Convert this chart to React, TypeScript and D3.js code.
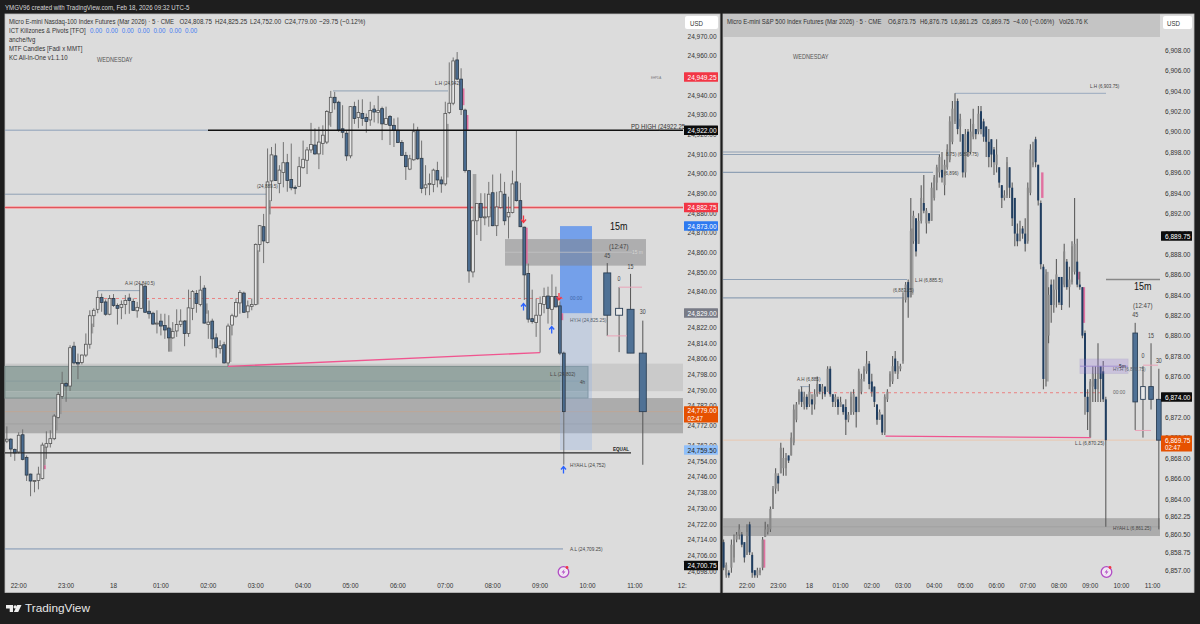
import React from "react";
import * as d3 from "d3";

type Bar = [number, number, number, number];
type Shade = [number, number, number, string];

const firstNqBar = -3;
const nqBars: Bar[] = [
[24764,24771.5,24763,24765],[24765,24765.5,24756,24760],[24759.75,24760.25,24754,24758],[24758.5,24768.5,24757.75,24767],
[24767.25,24770,24754.25,24754.75],[24755.75,24756.75,24743.75,24746.75],[24747.25,24747.5,24736,24743.75],[24743.75,24744.25,24738,24744],
[24744,24751,24739.5,24747.25],[24745,24763.25,24744.5,24762],[24761,24769,24755,24762.75],[24762.75,24769.5,24760.75,24765.25],
[24765.25,24777.75,24764.5,24776.75],[24776,24789,24775.5,24787.75],[24786.75,24799.25,24785.5,24793.25],[24793.25,24794,24784,24792],
[24792,24812.75,24789.5,24811.5],[24812.25,24814.5,24803,24803.75],[24804,24808.5,24795.5,24803.25],[24804,24808,24803,24807.75],
[24807.75,24818.75,24806.75,24813.25],[24813.25,24830.5,24811,24827.75],[24827.75,24831.5,24822,24830.5],[24831,24840.5,24829,24837],
[24837,24839,24829.75,24834.5],[24834.75,24836,24827.75,24828.5],[24828.5,24838.25,24828,24836.5],[24836.5,24838.75,24832.25,24833],
[24833,24834,24823.25,24831.5],[24832,24835.5,24826,24833.5],[24833.5,24838.25,24828.5,24835.5],[24836.75,24839,24828.75,24835.5],
[24835,24836.5,24830.25,24830.5],[24830.25,24834.75,24826.75,24832],[24831.5,24844,24831.25,24843.5],[24842.75,24843.75,24829.25,24829.5],
[24830,24835.5,24826.25,24828.75],[24829,24829.75,24823.25,24823.5],[24823.75,24830.5,24818.75,24824],[24825,24828.75,24817.75,24822.5],
[24822.75,24828.75,24816,24820.5],[24821.5,24828,24809.5,24816.5],[24816.5,24824.5,24816,24819.75],[24820,24831,24817,24823.25],
[24823.25,24831,24822,24825],[24825,24825.5,24812.25,24818.75],[24818.75,24841,24817,24831.75],[24831.5,24840.75,24825.5,24840],
[24839,24840.75,24829.25,24834],[24833.5,24848,24832.5,24840.75],[24841.75,24843.25,24823.75,24824],[24823.25,24830.5,24816,24824.5],
[24825,24826.25,24811,24816],[24816.5,24818.75,24806.5,24811.5],[24811,24815.25,24808.5,24812.5],[24813,24814.5,24803.5,24803.75],
[24803.75,24823.75,24802,24822.5],[24823,24828.75,24817.75,24827.75],[24827.5,24836.5,24826.75,24834.5],[24834.25,24840.75,24828.75,24839.5],
[24839.25,24840,24829.25,24829.5],[24829.75,24835.5,24826.5,24832.75],[24832.5,24836.5,24830.5,24833.5],[24833.5,24864.5,24833,24864],
[24864,24873.75,24860.25,24873.5],[24873,24879.5,24854.5,24865.75],[24865,24912.75,24864.5,24895.75],[24896.25,24913.5,24886,24909.5],
[24909,24915.25,24896.25,24896.5],[24895,24904.25,24890,24901.75],[24900.5,24916,24893,24905.5],[24905.5,24910,24890.75,24896.5],
[24897,24915.25,24891.5,24892.75],[24893,24894,24889.5,24892.75],[24893.5,24908.5,24893.25,24903.5],[24903,24916.75,24902.5,24907.25],
[24906.75,24913.5,24899.75,24912],[24912,24925.75,24910.5,24914.75],[24914.5,24923,24909.5,24910],[24910,24923.75,24902.25,24916],
[24915.25,24924.5,24909.5,24919.5],[24916,24932.25,24915,24931.5],[24931,24942,24923.75,24938.75],[24938.75,24941.5,24932.5,24936],
[24936.25,24937,24921.25,24922],[24922.75,24934.75,24918,24921],[24920.5,24922,24906.5,24909],[24909,24934.25,24907.75,24934],
[24934,24936.5,24925.25,24928],[24928.5,24937.5,24923,24931],[24930.5,24937.75,24924.25,24928],[24928.5,24930.5,24920.75,24926.5],
[24927.25,24936.5,24924.25,24932],[24932.75,24934.75,24926,24931.25],[24931,24939.5,24925.5,24932],[24933,24934,24917,24925.25],
[24925,24934,24924.75,24928],[24929,24929.75,24914.5,24924.5],[24924.5,24928,24913.5,24922],[24922,24928.5,24915.5,24915.75],
[24915.75,24917,24909,24909.25],[24909.25,24911,24896.75,24903.5],[24902.25,24909.5,24901.75,24907.5],[24907,24925.5,24906.5,24921.25],
[24922,24923.75,24907,24907.5],[24907.75,24916.75,24890,24892.5],[24892.75,24904.25,24889,24894.25],[24894.75,24900,24889,24895],
[24894.5,24902.5,24890.5,24901.75],[24901.5,24906,24893,24896.75],[24896.75,24898.5,24890.25,24894.75],[24894.75,24936.5,24893.75,24930.5],
[24931,24956.5,24930.25,24935.75],[24935.75,24959,24934.75,24957.25],[24957.75,24961.75,24947.5,24948],[24948,24953.5,24929.75,24932.5],
[24932.25,24933,24900.5,24901.5],[24901.5,24901.75,24844.5,24850.5],[24850,24876.5,24847.25,24876],[24876,24885,24868.75,24884.75],
[24884.75,24890,24865.75,24877.75],[24877.75,24890,24873.75,24878],[24878,24895.75,24873,24889.5],[24890.25,24899.5,24873.25,24873.5],
[24873.5,24890.75,24868.25,24883],[24882.75,24900,24882.25,24890.75],[24889.5,24895.75,24873.75,24876],[24878,24888.25,24867,24880.25],
[24880.25,24901.5,24879.75,24894.75],[24895.75,24922,24885.75,24886.25],[24886.25,24895.25,24872.75,24873],[24872.75,24873,24835.75,24848.5],
[24849.25,24854.25,24824.25,24826],[24826.25,24841,24823.75,24824.75],[24824.25,24836.5,24817,24828],[24828,24837.5,24809,24834],
[24833.5,24842,24829,24837.5],[24837.75,24842.5,24823.75,24831.5],[24831,24848.75,24823,24837.5],[24837.5,24842.5,24832,24832.25],
[24832.75,24835,24807.75,24808.75],[24808.75,24809.5,24752,24779],
];

const firstEsBar = -9;
const esBars: Bar[] = [
[6859.75,6860,6857,6857.25],[6856.5,6857.75,6856.25,6857.5],[6856.75,6857,6856.25,6856.5],[6857.25,6860,6856.75,6859.5],
[6858.25,6860.5,6857.75,6860],[6860,6860.75,6859.75,6860.5],[6860.5,6861.5,6860,6861],[6860.5,6860.75,6859.25,6859.5],
[6859.75,6859.75,6857.75,6858.25],[6858.5,6861.5,6858.5,6860.75],[6861.5,6861.75,6858.5,6858.75],[6858.5,6858.75,6856.25,6856.75],
[6857,6857,6856.25,6856.5],[6856.5,6857.25,6856.25,6857],[6856.75,6857.25,6856.5,6857],[6857.25,6860.25,6857,6860],
[6860.25,6861.75,6860.25,6861],[6860.75,6861.5,6860.5,6861.25],[6861,6863.25,6860.75,6863],[6863,6865.25,6863,6865],
[6865,6867,6864.5,6866.5],[6866.25,6866.5,6864.75,6865.5],[6866.5,6869.5,6866.5,6869],[6867,6869,6866.25,6868],
[6867,6868.5,6866.25,6868],[6868.25,6868.25,6867.5,6867.75],[6868.25,6870.5,6868.25,6870],[6869.5,6873.25,6869.25,6872.75],
[6871.75,6873.5,6871.5,6873.25],[6873.5,6874.75,6873.25,6874.5],[6874.5,6875,6873,6873.5],[6873.25,6874.5,6872.75,6874],
[6874,6874.25,6872.75,6873],[6873.25,6875.25,6873,6874.5],[6873.75,6874.25,6872.25,6873.25],[6873.25,6874.75,6872.75,6874.25],
[6874.25,6876,6874,6875.25],[6875.25,6875.25,6874.25,6874.5],[6874.5,6875.25,6873.75,6875],[6875,6875,6874,6874.25],
[6874.5,6877,6874.5,6876.75],[6876.75,6877,6874,6874.25],[6874.25,6874.25,6873,6873.5],[6873.5,6874.25,6873,6874],
[6873.75,6874,6872.25,6873],[6873,6874,6873,6873.5],[6873.25,6873.25,6872.25,6872.5],[6873,6873.75,6870.25,6871.75],
[6871.75,6872.5,6871.5,6872.25],[6872.25,6874.5,6872.25,6874],[6872.5,6874.75,6872.25,6874.25],[6874,6874,6871,6872.5],
[6872.5,6876.75,6872.5,6876.5],[6874.5,6876.25,6874.25,6875.75],[6875.75,6877,6875.5,6876.75],[6876.5,6878.5,6876.25,6877.25],
[6877.25,6877.5,6874.75,6875.25],[6875.5,6876.25,6874,6874.5],[6875,6875,6873,6873.5],[6873.25,6873.25,6871.25,6871.75],
[6871.75,6872.75,6871.75,6872.5],[6872.25,6872.25,6870.25,6870.5],[6870.5,6874.25,6870.25,6874],[6873.75,6874.75,6873.5,6874.5],
[6875,6876.5,6875,6876.25],[6875.5,6878,6875.25,6877],[6877.75,6878.5,6876.25,6876.5],[6876.25,6877.5,6875.75,6877],
[6876.75,6877.25,6876.5,6877],[6877.5,6884.25,6877.25,6883.75],[6883.5,6885.25,6883.25,6885],[6885.25,6885.5,6881.75,6883.75],
[6883.75,6893.5,6883.75,6890.25],[6889.25,6892.25,6889,6891.75],[6891.5,6891.5,6887.75,6888.25],[6889,6892,6889,6891.25],
[6891.25,6894.75,6891,6893.5],[6893,6895.75,6892,6892.25],[6891,6892.5,6890,6892.25],[6892,6892,6891,6891.25],
[6891.25,6895,6891.25,6894.5],[6893.5,6895.75,6893.25,6895.5],[6895,6896.75,6894.25,6896.5],[6896,6897.75,6895.5,6897.5],
[6896.25,6898,6895,6895.5],[6894.75,6897.25,6893.75,6896.75],[6896.5,6898.75,6896.25,6898.25],[6897.25,6901.5,6897,6901],
[6899,6903,6898.75,6902.25],[6901,6903.75,6900.75,6903],[6903,6903.25,6899.75,6900.25],[6900.5,6901.75,6899,6901.25],
[6899.75,6899.75,6895.5,6896],[6896,6900.25,6895.5,6899.75],[6900,6900.25,6897.5,6898],[6898,6901.25,6897.75,6900],
[6899.5,6902.25,6899.25,6900.75],[6900.25,6900.25,6899.25,6899.75],[6900,6902.5,6899.75,6901.75],[6902,6902.5,6899.75,6900.25],
[6901,6901.25,6899,6899.5],[6900.5,6900.5,6897.5,6899],[6899,6900.25,6896.5,6897.5],[6899.25,6899.25,6896.5,6897.75],
[6898.25,6898.5,6895.75,6897],[6896.75,6899.25,6896,6897.75],[6896.5,6896.5,6894.5,6895],[6894.75,6894.75,6892.5,6893.5],
[6893.5,6894.25,6893.25,6893.75],[6893.75,6897.5,6893.5,6897],[6896.5,6896.5,6893.5,6894.5],[6894.5,6895,6890.75,6891.5],
[6893.5,6893.5,6888.75,6890],[6890,6891,6888.75,6889.25],[6889.25,6891.25,6889.5,6890.5],[6890.5,6890.75,6889.5,6890],
[6890,6891.5,6888.25,6889],[6889.25,6895,6889,6894.5],[6894,6898.75,6893.75,6898.25],[6896.75,6899,6896.5,6897],
[6899.25,6899.5,6896.5,6897],[6896.75,6896.75,6892.75,6893.25],[6893,6893.25,6886.5,6887],[6886.75,6887,6874.75,6875.75],
[6875.75,6886.5,6875,6886],[6880,6884.75,6879.25,6884],[6885,6885.5,6881.25,6883],[6883,6885.5,6882.25,6884.5],
[6884.5,6887.5,6882.75,6886],[6885.75,6885.75,6883,6883.25],[6885.75,6885.75,6882.5,6883],[6885,6889,6884.75,6888.25],
[6887.25,6887.5,6884.5,6884.75],[6884.75,6886.75,6882.75,6885.5],[6885.25,6889.25,6885,6888.75],[6886.25,6893.5,6886,6889],
[6887.25,6889.5,6884.75,6885],[6885,6886.25,6884.5,6884.75],[6884.75,6884.75,6879.75,6880],[6880.25,6880.5,6872.25,6874],
[6874,6874.75,6870.75,6872.5],[6870,6875.75,6870,6875.5],[6875,6877,6873.5,6876.25],[6875.75,6877,6873.5,6874.75],
[6874.75,6879.25,6873.5,6877],[6877,6877,6873.5,6875.75],[6876.5,6877.5,6873.5,6873.75],[6873.75,6874,6861.25,6869.75],
];

const nqShades: Shade[] = [
[0,24767,24758.5,"g"],[6,24761,24751.75,"g"],[6,24751.75,24749.75,"p"],[9,24776.75,24769.5,"g"],[10,24786.5,24777.75,"g"],
[18,24823.75,24818.75,"g"],[38,24821.25,24809.5,"g"],[42,24825.5,24818.75,"g"],[47,24834,24828.75,"g"],[53,24822.5,24804.25,"g"],
[60,24861,24833.5,"g"],[63,24886.5,24879.25,"g"],[78,24931.5,24924.5,"g"],[108,24925.25,24898,"g"],[112,24943.25,24934.75,"p"],
[113,24929.75,24922,"p"],[115,24899.75,24876.25,"g"],[128,24872.5,24854.25,"p"],[137,24829,24825.5,"p"],
];
const esShades: Shade[] = [
[6,6860,6857.25,"p"],[113,6896,6893.5,"p"],[127,6886.25,6885.5,"p"],[129,6884.75,6881.25,"p"],[115,6886.25,6875.5,"g"],[63,6890.5,6884,"g"],
];

const mtfLabels = ["45", "0", "15", "30"];
const nqMtfSlots = [149, 152, 154.9, 158];
const nqMtf: Bar[] = [
[24849.5,24854.5,24817.5,24828],[24828,24842.25,24809.25,24831.5],[24831,24849,24808.75,24808.75],[24808.75,24825.25,24752,24779],
];
const esMtfSlots = [149.3, 152.3, 155.4, 158.4];
const esMtf: Bar[] = [
[6880.25,6881.25,6870.75,6873.5],[6873.75,6877,6870,6875],[6875,6879.25,6872.75,6873.75],[6873.75,6876.75,6861,6869.75],
];

const nqTicks = [24970,24960,24950,24940,24930,24920,24910,24900,24890,24880,24870,24860,24850,24840,24822,24814,24806,24798,24790,24782,24772,24762,24754,24746,24738,24730,24722,24714,24706,24698];
const esTicks = [6908,6906,6904,6902,6900,6898,6896,6894,6892,6890,6888,6886,6884,6882,6880,6878,6876,6874,6872,6870,6868,6866,6864,6862.25,6860.5,6858.75,6857];
const hourLabels = ["22:00","23:00","18","01:00","02:00","03:00","04:00","05:00","06:00","07:00","08:00","09:00","10:00","11:00","12:"];
const nqLegendValues = ["O24,808.75","H24,825.25","L24,752.00","C24,779.00","−29.75 (−0.12%)"];
const esLegendValues = ["O6,873.75","H6,876.75","L6,861.25","C6,869.75","−4.00 (−0.06%)","Vol26.76 K"];
const killzoneValues = ["0.00","0.00","0.00","0.00","0.00","0.00","0.00"];
const indicatorNames = ["anche/fvg","MTF Candles [Fadi x MMT]","KC All-In-One v1.1.10"];

const FONT = "'Liberation Sans', Arial, sans-serif";
const CONDENSE = 0.82;

const nqX = d3.scaleLinear().domain([0, 12]).range([18.7, 66.1]);
const nqY = d3.scaleLinear().domain([24960, 24700.75]).range([55.5, 565.6]);
const esX = d3.scaleLinear().domain([0, 12]).range([747, 778.2]);
const esY = d3.scaleLinear().domain([6908, 6857]).range([50, 570.2]);
const fmt = d3.format(",.2f");

const PINK = "#f0558f";
const LINE = "#a6b3c4";

function T(p: any) {
  const { x, y, s = 7.5, c = "#333", a = "start", w = 400, children, o = 1 } = p;
  return (
    <text transform={`translate(${x} ${y}) scale(${CONDENSE} 1)`} fontSize={s} fill={c} textAnchor={a} fontWeight={w} opacity={o} fontFamily={FONT} dominantBaseline="central">
      {children}
    </text>
  );
}

function Candles({ bars, first, x, y, w, upStroke, downStroke, upFill, downFill, wick, wickW }: any) {
  return (
    <g>
      {bars.map((b: Bar, i: number) => {
        const [o, h, l, c] = b;
        const px = x(first + i);
        const top = y(Math.max(o, c));
        const bot = y(Math.min(o, c));
        const down = c < o;
        const stroke = down ? downStroke : upStroke;
        return (
          <g key={i}>
            <line x1={px} x2={px} y1={y(h)} y2={y(l)} stroke={wick} strokeWidth={wickW} />
            <rect x={px - w / 2} y={top} width={w} height={Math.max(bot - top, 1)} fill={down ? downFill : upFill} stroke={stroke} strokeWidth={stroke === "none" ? 0 : 0.8} />
          </g>
        );
      })}
    </g>
  );
}

function Shades({ items, x, y, w, dx }: any) {
  return (
    <g>
      {items.map((s: Shade, i: number) => (
        <rect key={i} x={x(s[0]) + dx} y={y(s[1])} width={w} height={y(s[2]) - y(s[1])} fill={s[3] === "p" ? "#e06a9c" : "#8f8f8f"} opacity={s[3] === "p" ? 0.95 : 0.75} />
      ))}
    </g>
  );
}

function Mtf({ bars, slots, x, y, w, labelY }: any) {
  return (
    <g>
      {bars.map((b: Bar, i: number) => {
        const [o, h, l, c] = b;
        const px = x(slots[i]);
        const top = y(Math.max(o, c));
        const bot = y(Math.min(o, c));
        return (
          <g key={i}>
            <line x1={px} x2={px} y1={y(h)} y2={y(l)} stroke="#555" strokeWidth={1} />
            <rect x={px - w / 2} y={top} width={w} height={bot - top} fill={c < o ? "#4f7195" : "#e8e8e8"} stroke="#2b3f55" strokeWidth={0.9} />
            <T x={px} y={labelY[i]} s={6.5} a="middle" c="#444">{mtfLabels[i]}</T>
          </g>
        );
      })}
    </g>
  );
}

function Badge({ x, w, y, h = 9.5, fill, color = "#fff", text, text2, tx }: any) {
  return (
    <g>
      <rect x={x} y={y - h / 2} width={w} height={text2 ? h * 1.7 : h} fill={fill} rx={0.5} />
      <T x={tx} y={text2 ? y - 0.3 : y} s={8} c={color}>{text}</T>
      {text2 && <T x={tx} y={y + 7.6} s={7.5} c={color}>{text2}</T>}
    </g>
  );
}

function Arrow({ x, y, c, up }: any) {
  const d = up ? -1 : 1;
  return (
    <path d={`M${x},${y - 3.5 * d} L${x},${y + 3 * d} M${x - 2.5},${y + 0.5 * d} L${x},${y + 3.5 * d} L${x + 2.5},${y + 0.5 * d}`} fill="none" stroke={c} strokeWidth={1.3} />
  );
}

function Bolt({ x, y }: any) {
  return (
    <g>
      <circle cx={x} cy={y} r={5.3} fill="#f1e6f4" stroke="#b14cc4" strokeWidth={1.3} />
      <path d={`M${x + 1},${y - 3} L${x - 2},${y + 0.5} L${x},${y + 0.5} L${x - 1},${y + 3} L${x + 2},${y - 0.5} L${x},${y - 0.5} Z`} fill="#b14cc4" />
      <circle cx={x + 3.5} cy={y - 4.5} r={1.4} fill="#f23645" />
    </g>
  );
}

function HourAxis({ x, count, y }: any) {
  return (
    <g>
      {hourLabels.slice(0, count).map((t, i) => (
        <T key={t} x={x(i * 12)} y={y} s={7.8} a="middle" c="#333">{t}</T>
      ))}
    </g>
  );
}

export default function App() {
  return (
    <svg width={1200} height={624} style={{ position: "absolute", left: 0, top: 0, display: "block" }}>
      <rect width={1200} height={624} fill="#1e1e1e" />
      <T x={5} y={7} s={7.5} c="#d8d8d8">YMGV96 created with TradingView.com, Feb 18, 2026 09:32 UTC-5</T>

      {/* Left pane */}
      <rect x={5} y={14} width={715} height={578.5} fill="#dcdcdc" stroke="#bdbdbd" strokeWidth={0.8} />
      <g>
        <rect x={5} y={nqY(24803.4)} width={678} height={nqY(24789.4) - nqY(24803.4)} fill="#cacaca" />
        <rect x={5} y={nqY(24785.9)} width={678} height={nqY(24768) - nqY(24785.9)} fill="#acacac" />
        <line x1={5} x2={683} y1={nqY(24779)} y2={nqY(24779)} stroke="#c9a48a" strokeWidth={0.6} />
        <line x1={5} x2={683} y1={nqY(24772.75)} y2={nqY(24772.75)} stroke="#989898" strokeWidth={0.6} />
        <rect x={5} y={nqY(24802)} width={583} height={nqY(24789.4) - nqY(24802)} fill="#95a5a1" />
        <rect x={5} y={nqY(24789.4)} width={583} height={nqY(24785.9) - nqY(24789.4)} fill="#a2b0ad" />
        <rect x={5} y={nqY(24802)} width={583} height={nqY(24785.9) - nqY(24802)} fill="none" stroke="#7b8d8b" strokeWidth={1} />
        <line x1={5} x2={588} y1={nqY(24794.5)} y2={nqY(24794.5)} stroke="#84979a" strokeWidth={0.7} />
      </g>

      <rect x={560} y={nqY(24873.3)} width={32} height={nqY(24829) - nqY(24873.3)} fill="#74a0ea" />
      <rect x={560} y={nqY(24829)} width={32} height={nqY(24759.5) - nqY(24829)} fill="#8fb0e6" opacity={0.3} />
      <rect x={505} y={nqY(24866.7)} width={141} height={nqY(24853.2) - nqY(24866.7)} fill="#808082" opacity={0.5} />
      <line x1={505} x2={632} y1={nqY(24860)} y2={nqY(24860)} stroke="#c6c6c8" strokeWidth={1} opacity={0.7} />

      <line x1={5} x2={208} y1={nqY(24922)} y2={nqY(24922)} stroke={LINE} strokeWidth={1.4} />
      <line x1={5} x2={267} y1={nqY(24889.5)} y2={nqY(24889.5)} stroke="#8fa0b4" strokeWidth={1} />
      <line x1={5} x2={683} y1={nqY(24882.75)} y2={nqY(24882.75)} stroke="#f7c8c8" strokeWidth={3} />
      <line x1={5} x2={683} y1={nqY(24882.75)} y2={nqY(24882.75)} stroke="#e0555c" strokeWidth={1.6} />
      <line x1={98} x2={563} y1={nqY(24836.5)} y2={nqY(24836.5)} stroke="#ee6b6b" strokeWidth={0.8} strokeDasharray="3 3" />
      <line x1={98} x2={140} y1={nqY(24840.5)} y2={nqY(24840.5)} stroke="#8fa0b4" strokeWidth={1} />
      <line x1={333} x2={448} y1={nqY(24942)} y2={nqY(24942)} stroke="#8fa0b4" strokeWidth={1} />
      <line x1={5} x2={563} y1={nqY(24709.25)} y2={nqY(24709.25)} stroke={LINE} strokeWidth={1.6} />

      <Shades items={nqShades} x={nqX} y={nqY} w={3.6} dx={-0.2} />
      <Candles bars={nqBars} first={firstNqBar} x={nqX} y={nqY} w={2.8} upStroke="#555" downStroke="#2e3a46" upFill="#e6e6e6" downFill="#4a6c90" wick="#666" wickW={0.9} />

      <line x1={208} x2={683} y1={nqY(24922)} y2={nqY(24922)} stroke="#111" strokeWidth={1.3} />
      <line x1={5} x2={631} y1={nqY(24758)} y2={nqY(24758)} stroke="#2a2a2a" strokeWidth={1.2} />
      <line x1={nqX(53)} x2={540} y1={nqY(24802)} y2={nqY(24809)} stroke={PINK} strokeWidth={1.3} />

      <Mtf bars={nqMtf} slots={nqMtfSlots} x={nqX} y={nqY} w={7} labelY={[256, 279, 267, 312]} />
      <line x1={619} x2={642} y1={nqY(24842.25)} y2={nqY(24842.25)} stroke="#eaa4b8" strokeWidth={1} />
      <line x1={607} x2={627} y1={nqY(24817.5)} y2={nqY(24817.5)} stroke="#eaa4b8" strokeWidth={1} />

      <Arrow x={523.5} y={307} c="#2962ff" up />
      <Arrow x={551.7} y={330} c="#2962ff" up />
      <Arrow x={563.5} y={470} c="#2962ff" up />
      <Arrow x={523.5} y={219} c="#f23645" />
      <Arrow x={559} y={296.5} c="#f23645" />

      <T x={97} y={59} s={6.8} c="#555">WEDNESDAY</T>
      <T x={651} y={78} s={3.6} c="#777">EHPDA</T>
      <T x={631} y={126} s={7.4} c="#333">PD HIGH (24922.25</T>
      <T x={125} y={283} s={5.6} c="#444">A.H (24,840.5)</T>
      <T x={435} y={83} s={5.6} c="#444">L.H (24,942)</T>
      <T x={257} y={186} s={5.6} c="#444">(24,889.5)</T>
      <T x={550} y={374} s={5.8} c="#444">L.L (24,802)</T>
      <T x={580} y={382} s={5.6} c="#444">4h</T>
      <T x={570} y={320} s={5.8} c="#55606e">HY.H (24,825.25)</T>
      <T x={570} y={465} s={5.8} c="#444">HYAH.L (24,752)</T>
      <T x={570} y={549} s={5.8} c="#444">A.L (24,709.25)</T>
      <T x={613} y={449} s={5.6} c="#222" w={700}>EQUAL</T>
      <T x={570} y={298} s={6} c="#3f66a8">00:00</T>
      <T x={610} y={226} s={11} c="#111">15m</T>
      <T x={609} y={246} s={7.5} c="#444">(12:47)</T>
      <T x={632} y={252} s={6} c="#d5d5d5">15 m</T>
      <Bolt x={563.5} y={572} />

      <T x={9} y={21.5} s={7.35}>Micro E-mini Nasdaq-100 Index Futures (Mar 2026) · 5 · CME</T>
      {nqLegendValues.map((t, i) => <T key={t} x={[179.5, 215, 250, 284.5, 319][i]} y={21.5} s={7.6}>{t}</T>)}
      <T x={9} y={30.5} s={7.4}>ICT Killzones &amp; Pivots [TFO]</T>
      {killzoneValues.map((t, i) => <T key={i} x={90 + i * 15.85} y={30.5} s={7.6} c="#3d7bf2">{t}</T>)}
      {indicatorNames.map((t, i) => <T key={t} x={9} y={39.5 + i * 9} s={7.4}>{t}</T>)}

      {nqTicks.map(t => <T key={t} x={687.5} y={nqY(t)} s={8}>{fmt(t)}</T>)}
      <rect x={685} y={16} width={33} height={13} rx={2} fill="#fff" />
      <T x={690} y={23} s={7.5}>USD</T>
      <Badge x={684} w={34} y={77} fill="#f23645" text="24,949.25" tx={687.5} />
      <Badge x={684} w={34} y={nqY(24922)} fill="#0c0c0c" text="24,922.00" tx={687.5} />
      <Badge x={684} w={34} y={nqY(24882.75)} fill="#f23645" text="24,882.75" tx={687.5} />
      <Badge x={684} w={34} y={226} fill="#2d79f0" text="24,873.00" tx={687.5} />
      <Badge x={684} w={34} y={313} fill="#787b86" text="24,829.00" tx={687.5} />
      <Badge x={684} w={34} y={411} fill="#e65100" text="24,779.00" text2="02:47" tx={687.5} />
      <Badge x={684} w={34} y={450} fill="#90bff9" color="#222" text="24,759.50" tx={687.5} />
      <Badge x={684} w={34} y={565.6} fill="#0c0c0c" text="24,700.75" tx={687.5} />
      <HourAxis x={nqX} count={15} y={585.5} />

      {/* Right pane */}
      <rect x={723} y={14} width={471} height={578.5} fill="#dcdcdc" stroke="#bdbdbd" strokeWidth={0.8} />
      <rect x={723} y={14} width={437} height={23} fill="#c4c4c4" />
      <rect x={723} y={esY(6862.1)} width={437} height={esY(6860.35) - esY(6862.1)} fill="#acacac" />
      <line x1={723} x2={1160} y1={esY(6861.25)} y2={esY(6861.25)} stroke="#999" strokeWidth={0.7} />
      <line x1={723} x2={1160} y1={esY(6869.75)} y2={esY(6869.75)} stroke="#e8c8b0" strokeWidth={1} />
      <line x1={955} x2={1106} y1={esY(6903.75)} y2={esY(6903.75)} stroke={LINE} strokeWidth={1.4} />
      {[6898, 6897.75, 6896, 6885.5, 6883.7].map((p, i) => (
        <line key={p} x1={723} x2={[940, 940, 933, 907, 904][i]} y1={esY(p)} y2={esY(p)} stroke="#8fa0b4" strokeWidth={1.1} />
      ))}
      <line x1={800} x2={810} y1={esY(6875)} y2={esY(6875)} stroke="#8fa0b4" strokeWidth={0.9} />
      <line x1={810} x2={1100} y1={esY(6874.4)} y2={esY(6874.4)} stroke="#ee6b6b" strokeWidth={0.8} strokeDasharray="3 3" />
      <line x1={1106} x2={1160} y1={esY(6885.5)} y2={esY(6885.5)} stroke="#888" strokeWidth={1.3} />

      <Shades items={esShades} x={esX} y={esY} w={2.4} dx={0.3} />
      <Candles bars={esBars} first={firstEsBar} x={esX} y={esY} w={2} upStroke="none" downStroke="none" upFill="#888888" downFill="#1f3d60" wick="#5c5c5c" wickW={1.1} />

      <line x1={885.5} x2={1090.5} y1={esY(6870.15)} y2={esY(6870)} stroke={PINK} strokeWidth={1.3} />
      <rect x={1080} y={esY(6877.7)} width={48} height={esY(6876.3) - esY(6877.7)} fill="#9678dc" opacity={0.25} stroke="#7a60c0" strokeWidth={0.8} />
      <line x1={1080} x2={1128} y1={esY(6877)} y2={esY(6877)} stroke="#9a85d0" strokeWidth={0.8} />

      <Mtf bars={esMtf} slots={esMtfSlots} x={esX} y={esY} w={4.6} labelY={[315, 356, 336, 361]} />
      <line x1={1143} x2={1158} y1={esY(6877.1)} y2={esY(6877.1)} stroke="#eaa4b8" strokeWidth={1} />
      <line x1={1135} x2={1151} y1={esY(6870.7)} y2={esY(6870.7)} stroke="#eaa4b8" strokeWidth={1} />

      <T x={793} y={56} s={6.8} c="#555">WEDNESDAY</T>
      <T x={1090} y={86} s={5.6} c="#444">L.H (6,903.75)</T>
      <T x={946} y={154} s={5.6} c="#444">8.75) (6,897.75)</T>
      <T x={944} y={173} s={5.6} c="#444">(6,896)</T>
      <T x={915} y={280} s={5.8} c="#444">L.H (6,885.5)</T>
      <T x={893} y={290} s={5.6} c="#444">(6,883.25)</T>
      <T x={797} y={379} s={5.6} c="#444">A.H (6,885)</T>
      <T x={1075} y={443} s={5.8} c="#444">L.L (6,870.25)</T>
      <T x={1113} y={528} s={5.6} c="#444">HYAH.L (6,861.25)</T>
      <T x={1113} y={369} s={5.6} c="#55606e">HY.H (6,876.75)</T>
      <T x={1119} y={366} s={5.8} c="#222">5m</T>
      <T x={1113} y={392} s={6} c="#666">00:00</T>
      <T x={1134} y={286} s={11} c="#111">15m</T>
      <T x={1133} y={305} s={7.5} c="#444">(12:47)</T>
      <Bolt x={1106.5} y={572} />

      <T x={727} y={21.5} s={7.3}>Micro E-mini S&amp;P 500 Index Futures (Mar 2026) · 5 · CME</T>
      {esLegendValues.map((t, i) => <T key={t} x={[888, 920, 951, 982, 1013, 1059][i]} y={21.5} s={7.3}>{t}</T>)}

      {esTicks.map(t => <T key={t} x={1165} y={esY(t)} s={8}>{fmt(t)}</T>)}
      <rect x={1163} y={16} width={29} height={13} rx={2} fill="#fff" />
      <T x={1167} y={23} s={7.5}>USD</T>
      <Badge x={1161} w={31} y={236} fill="#0c0c0c" text="6,889.75" tx={1165} />
      <Badge x={1161} w={31} y={397} fill="#0c0c0c" text="6,874.00" tx={1165} />
      <Badge x={1161} w={31} y={esY(6869.75)} fill="#e65100" text="6,869.75" text2="02:47" tx={1165} />
      <HourAxis x={esX} count={14} y={585.5} />

      {/* Watermark */}
      <path d="M6,605 H13 V612 H9.7 V608.4 H6 Z M17.2,605 H21.5 L18.2,612 H13.9 Z" fill="#eee" />
      <circle cx={15.2} cy={606.9} r={1.7} fill="#eee" />
      <text x={25} y={608} fontSize={11.8} fill="#e8e8e8" fontWeight={500} fontFamily={FONT} dominantBaseline="central">TradingView</text>
    </svg>
  );
}
